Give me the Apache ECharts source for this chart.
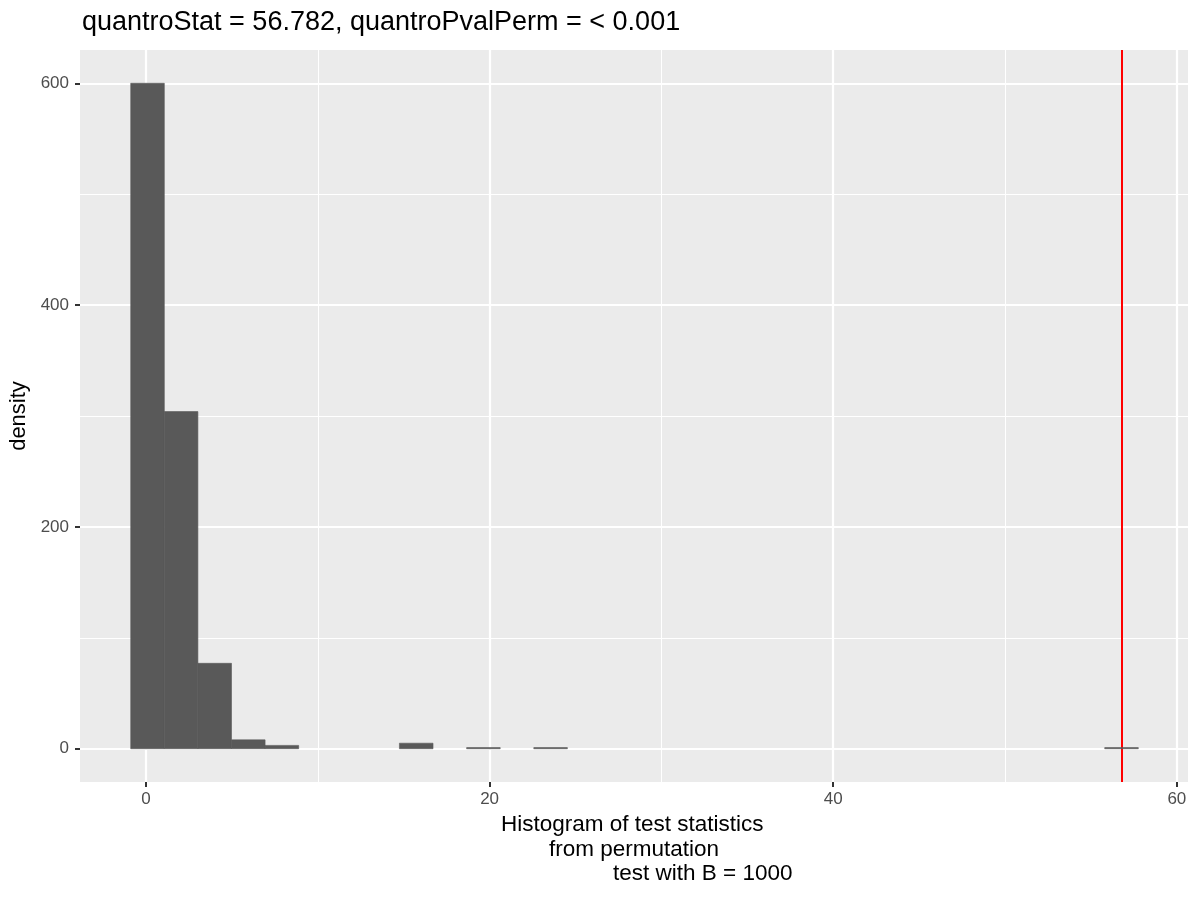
<!DOCTYPE html>
<html>
<head>
    <meta charset="utf-8">
    <title>quantro permutation histogram</title>
    <script src="https://cdn.jsdelivr.net/npm/echarts@6/dist/echarts.min.js"></script>
</head>
<body style="margin:0">
    <div id="main" style="width:1200px;height:900px"></div>
    <script type="text/javascript">
// histogram bins (B = 1000 permutations)
var binWidth = 1.955;
var binCenters = [0.09, 2.045, 4.0, 5.955, 7.91, 15.73, 19.64, 23.55, 56.78];
var binCounts = [600, 304, 77, 8, 3, 5, 1, 1, 1];
var quantroStat = 56.782;

var xTicks = [0, 20, 40, 60];
var xMinor = [10, 30, 50];
var yTicks = [0, 200, 400, 600];
var yMinor = [100, 300, 500];

var myChart = echarts.init(document.getElementById('main'));
var font = 'Liberation Sans, Arial, sans-serif';

var histData = binCenters.map(function (c, i) {
    return [c - binWidth / 2, c + binWidth / 2, binCounts[i]];
});

function gridLines(vals, dim, width) {
    return vals.map(function (v) {
        var o = {};
        o[dim] = v;
        o.lineStyle = { color: '#ffffff', width: width, type: 'solid' };
        return o;
    });
}

var tickStyle = { show: true, length: 5, lineStyle: { color: '#333333', width: 2 } };
var labelStyle = { color: '#4D4D4D', fontSize: 17, fontFamily: font };
var hiddenLine = { show: true, onZero: false, lineStyle: { color: 'rgba(0,0,0,0)' } };

var option = {
    animation: false,
    backgroundColor: '#ffffff',
    title: {
        text: 'quantroStat = 56.782, quantroPvalPerm = < 0.001',
        left: 77,
        top: 4,
        textStyle: { fontFamily: font, fontSize: 27, fontWeight: 'normal', color: '#000' }
    },
    grid: {
        left: 80, right: 12, top: 50, bottom: 118,
        outerBoundsMode: 'none',
        containLabel: false,
        show: true, backgroundColor: '#EBEBEB', borderWidth: 0
    },
    xAxis: {
        type: 'value',
        min: -3.84,
        max: 60.65,
        axisLine: hiddenLine,
        splitLine: { show: false },
        axisTick: Object.assign({ customValues: xTicks }, tickStyle),
        axisLabel: Object.assign({ customValues: xTicks, margin: 9 }, labelStyle)
    },
    yAxis: {
        type: 'value',
        min: -30,
        max: 630,
        name: 'density',
        nameLocation: 'middle',
        nameGap: 48,
        nameRotate: 90,
        nameTextStyle: { fontFamily: font, fontSize: 22, color: '#000' },
        axisLine: hiddenLine,
        splitLine: { show: false },
        axisTick: Object.assign({ customValues: yTicks }, tickStyle),
        axisLabel: Object.assign({ customValues: yTicks, margin: 11 }, labelStyle)
    },
    graphic: [
        { type: 'text', left: 501, top: 813, style: { text: 'Histogram of test statistics', font: '22.5px ' + font, fill: '#000' } },
        { type: 'text', left: 549, top: 838, style: { text: 'from permutation', font: '22.5px ' + font, fill: '#000' } },
        { type: 'text', left: 613, top: 862, style: { text: 'test with B = 1000', font: '22.5px ' + font, fill: '#000' } }
    ],
    series: [
        {
            // panel grid lines, under the bars
            type: 'line',
            data: [],
            zlevel: 0,
            markLine: {
                silent: true,
                symbol: 'none',
                label: { show: false },
                data: [].concat(
                    gridLines(xMinor, 'xAxis', 1),
                    gridLines(yMinor, 'yAxis', 1),
                    gridLines(xTicks, 'xAxis', 2.2),
                    gridLines(yTicks, 'yAxis', 2.2)
                )
            }
        },
        {
            type: 'custom',
            zlevel: 1,
            data: histData,
            renderItem: function (params, api) {
                var p0 = api.coord([api.value(0), 0]);
                var p1 = api.coord([api.value(1), api.value(2)]);
                return {
                    type: 'rect',
                    shape: { x: p0[0], y: p1[1], width: p1[0] - p0[0], height: p0[1] - p1[1] },
                    style: { fill: '#595959', stroke: '#595959', lineWidth: 0.6 }
                };
            }
        },
        {
            type: 'line',
            data: [],
            zlevel: 2,
            markLine: {
                silent: true,
                symbol: 'none',
                label: { show: false },
                data: [{ xAxis: quantroStat, lineStyle: { color: '#FF0000', width: 2, type: 'solid' } }]
            }
        }
    ]
};

myChart.setOption(option);
    </script>
</body>
</html>
